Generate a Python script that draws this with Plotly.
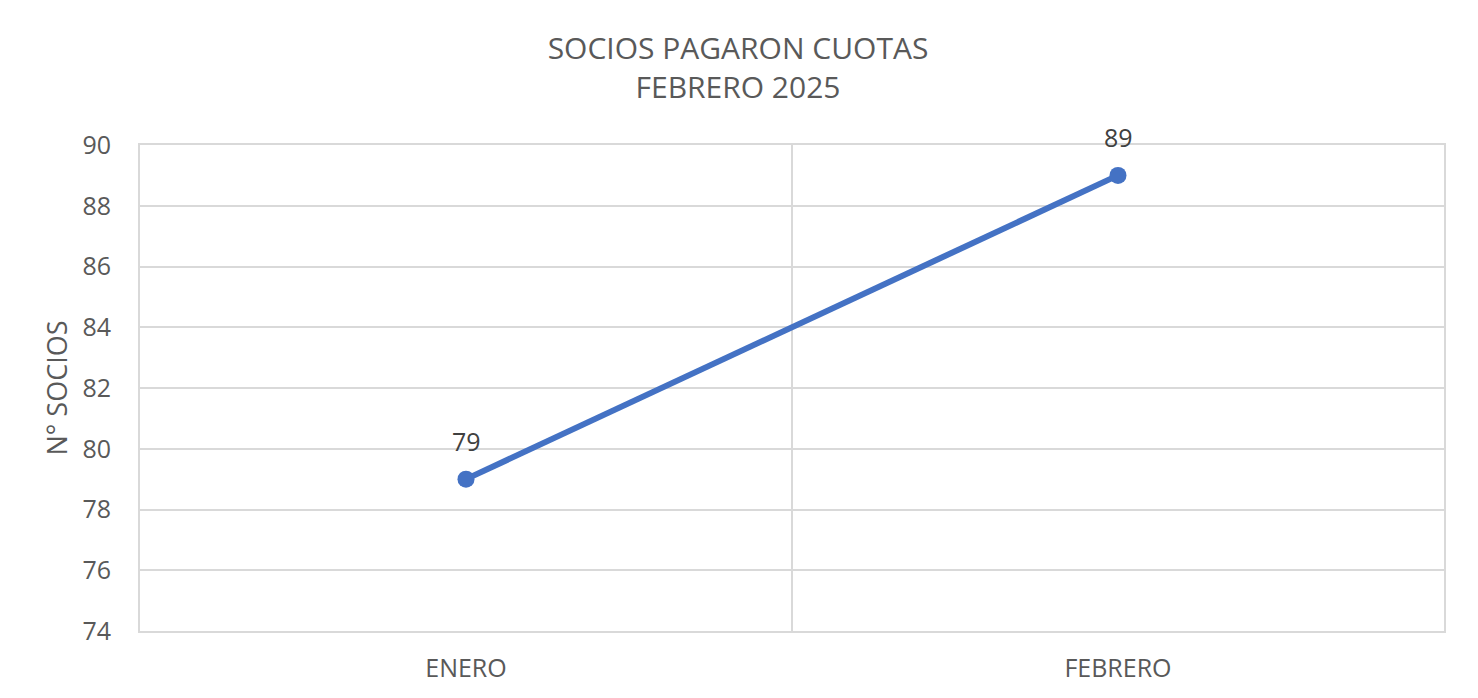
import plotly.graph_objects as go

categories = ["ENERO", "FEBRERO"]
socios = [79, 89]
y_ticks = [74, 76, 78, 80, 82, 84, 86, 88, 90]

FONT = "Open Sans"
TXT = "#595959"
GRID = "#d9d9d9"
OFF = 8  # page body margin

fig = go.Figure()
fig.add_trace(go.Scatter(
    x=categories, y=socios, mode="lines+markers",
    line=dict(color="#4472C4", width=6),
    marker=dict(color="#4472C4", size=17),
    cliponaxis=False, showlegend=False,
))
for c, v in zip(categories, socios):
    fig.add_annotation(x=c, y=v, text=str(v), showarrow=False, yshift=38,
                       font=dict(family=FONT, size=25, color="#404040"))

fig.update_layout(
    width=1478, height=698,
    margin=dict(l=140 - OFF, r=34 + OFF, t=145 - OFF, b=67 + OFF),
    paper_bgcolor="white", plot_bgcolor="white",
    title=dict(text="SOCIOS PAGARON CUOTAS<br>FEBRERO 2025",
               xref="container", x=(738 - OFF) / 1478, xanchor="center",
               yref="container", y=1 - 51 / 698, yanchor="top",
               font=dict(family=FONT, size=30, color=TXT)),
    font=dict(family=FONT, color=TXT),
)
fig.update_xaxes(
    type="category", range=[-0.5, 1.5], tickson="boundaries",
    showgrid=True, gridcolor=GRID, gridwidth=2,
    showline=True, linecolor=GRID, linewidth=2, mirror=True,
    ticks="", ticklabelstandoff=14,
    tickfont=dict(family=FONT, size=25, color=TXT),
)
fig.update_yaxes(
    range=[74, 90], tickvals=y_ticks,
    showgrid=True, gridcolor=GRID, gridwidth=2, zeroline=False,
    showline=True, linecolor=GRID, linewidth=2, mirror=True,
    ticks="", ticklabelstandoff=22,
    tickfont=dict(family=FONT, size=25, color=TXT),
    title=dict(text="N° SOCIOS", font=dict(family=FONT, size=27, color=TXT), standoff=7),
)

fig.write_html("out.html")
